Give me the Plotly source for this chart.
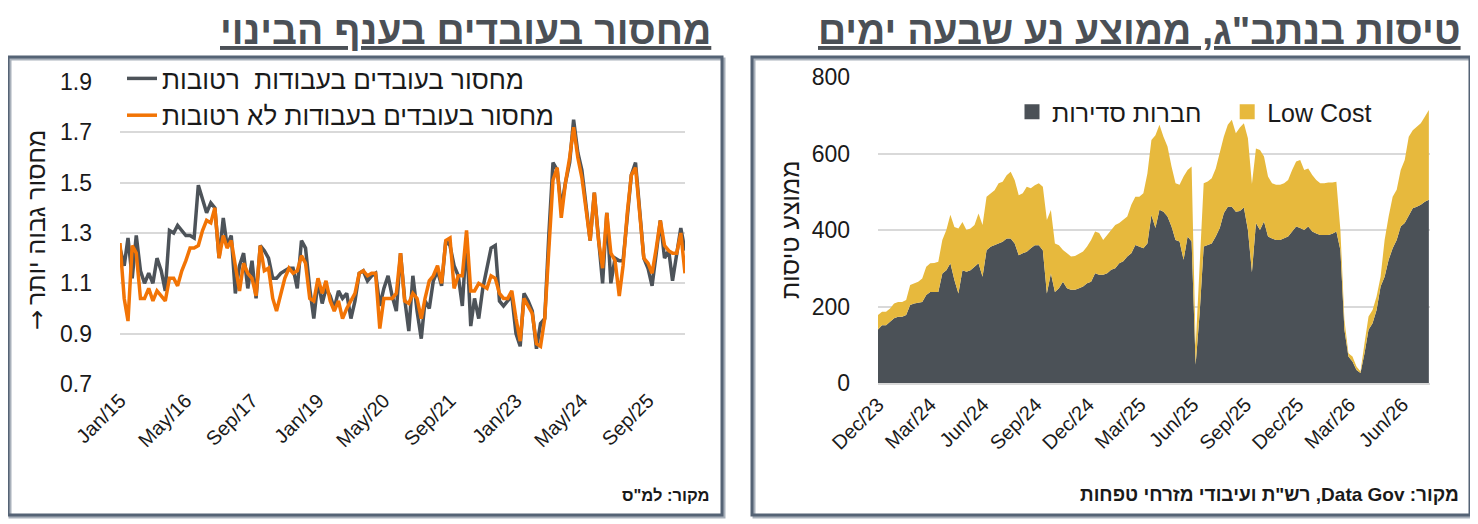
import pandas as pd
import plotly.graph_objects as go

W, H = 1478, 524

# ---- left panel: construction labour shortage (monthly, Jan 2015 - Jun 2026)
shortage_months = pd.date_range("2015-01-01", periods=138, freq="MS")
wet_works = [
    1.24, 1.17, 1.28, 1.12, 1.29, 1.15, 1.10, 1.14, 1.10, 1.20,
    1.15, 1.07, 1.31, 1.30, 1.33, 1.31, 1.29, 1.29, 1.28, 1.49,
    1.43, 1.38, 1.42, 1.40, 1.20, 1.36, 1.25, 1.29, 1.06, 1.17,
    1.22, 1.08, 1.19, 1.04, 1.25, 1.23, 1.20, 1.12, 1.12, 1.14,
    1.15, 1.16, 1.16, 1.08, 1.27, 1.24, 1.08, 0.96, 1.11, 1.02,
    1.08, 1.05, 1.00, 1.07, 1.04, 1.06, 0.96, 1.03, 1.14, 1.15,
    1.11, 1.13, 1.14, 1.01, 1.08, 1.13, 1.05, 0.99, 1.22, 1.04,
    0.91, 1.13, 0.99, 0.88, 1.03, 1.00, 1.11, 1.15, 1.09, 1.27,
    1.25, 1.17, 1.13, 1.01, 1.28, 0.93, 1.04, 0.96, 1.08, 1.17,
    1.24, 1.25, 1.03, 1.01, 1.03, 1.05, 0.90, 0.85, 1.06, 1.03,
    0.99, 0.84, 0.94, 0.96, 1.30, 1.58, 1.55, 1.40, 1.50, 1.58,
    1.75, 1.62, 1.55, 1.42, 1.27, 1.46, 1.27, 1.10, 1.38, 1.10,
    1.20, 1.19, 1.19, 1.38, 1.53, 1.58, 1.38, 1.20, 1.16, 1.09,
    1.22, 1.35, 1.20, 1.23, 1.11, 1.22, 1.32, 1.23,
]
dry_works = [
    1.26, 1.04, 0.95, 1.25, 1.22, 1.04, 1.04, 1.08, 1.03, 1.07,
    1.05, 1.03, 1.12, 1.12, 1.09, 1.15, 1.19, 1.24, 1.24, 1.25,
    1.31, 1.35, 1.34, 1.40, 1.20, 1.29, 1.24, 1.27, 1.17, 1.07,
    1.18, 1.14, 1.12, 1.05, 1.25, 1.15, 1.16, 1.04, 0.99, 1.06,
    1.12, 1.16, 1.14, 1.15, 1.21, 1.18, 1.04, 1.03, 1.12, 1.06,
    1.11, 1.03, 0.99, 1.03, 0.96, 1.00, 1.03, 1.06, 1.14, 1.15,
    1.13, 1.14, 1.14, 0.92, 1.04, 1.04, 1.04, 1.06, 1.22, 1.03,
    1.02, 1.06, 1.04, 0.96, 1.04, 1.11, 1.13, 1.17, 1.10, 1.27,
    1.28, 1.08, 1.13, 1.13, 1.31, 1.07, 1.07, 1.10, 1.09, 1.08,
    1.13, 1.12, 1.06, 1.04, 1.04, 1.07, 0.96, 0.87, 1.04, 1.01,
    0.98, 0.86, 0.85, 0.96, 1.25, 1.51, 1.56, 1.36, 1.50, 1.60,
    1.72, 1.60, 1.52, 1.40, 1.27, 1.46, 1.27, 1.16, 1.38, 1.22,
    1.19, 1.05, 1.17, 1.38, 1.53, 1.56, 1.38, 1.20, 1.18, 1.14,
    1.24, 1.35, 1.25, 1.23, 1.22, 1.22, 1.30, 1.14,
]
left_ticks = ["2015-01-01", "2016-05-01", "2017-09-01", "2019-01-01", "2020-05-01",
              "2021-09-01", "2023-01-01", "2024-05-01", "2025-09-01"]
left_ticktext = ["Jan/15", "May/16", "Sep/17", "Jan/19", "May/20",
                 "Sep/21", "Jan/23", "May/24", "Sep/25"]

# ---- right panel: flights at Ben Gurion, 7-day moving average (weekly reads)
flight_weeks = pd.date_range("2023-12-01", periods=138, freq="7D")
total_flights = [
    178, 186, 186, 195, 208, 212, 212, 217, 256, 260,
    265, 273, 304, 313, 314, 317, 374, 400, 440, 408,
    404, 421, 400, 404, 413, 443, 413, 487, 496, 504,
    522, 526, 543, 552, 530, 491, 496, 513, 509, 517,
    522, 513, 426, 452, 365, 360, 348, 339, 331, 332,
    338, 344, 357, 374, 396, 392, 374, 387, 400, 413,
    418, 426, 435, 466, 487, 487, 496, 548, 635, 648,
    675, 644, 618, 566, 522, 518, 540, 557, 566, 95,
    305, 522, 527, 535, 561, 600, 644, 675, 688, 653,
    668, 679, 640, 520, 613, 609, 592, 540, 522, 518,
    518, 522, 531, 557, 579, 583, 557, 561, 544, 531,
    522, 522, 524, 524, 526, 400, 165, 78, 69, 43,
    30, 104, 174, 191, 226, 278, 374, 435, 487, 505,
    557, 583, 644, 661, 670, 679, 696, 714,
]
regular_flights = [
    140, 151, 151, 160, 169, 173, 173, 178, 204, 208,
    210, 212, 230, 238, 238, 238, 286, 295, 313, 269,
    234, 295, 291, 295, 304, 313, 278, 347, 356, 360,
    365, 369, 378, 378, 365, 334, 339, 343, 352, 360,
    360, 347, 234, 286, 238, 248, 265, 248, 244, 244,
    248, 252, 261, 265, 287, 283, 283, 287, 296, 300,
    313, 318, 331, 339, 361, 357, 352, 365, 439, 405,
    453, 448, 435, 409, 374, 370, 322, 383, 370, 48,
    183, 357, 361, 365, 383, 405, 444, 461, 461, 448,
    450, 459, 400, 290, 418, 400, 422, 383, 378, 374,
    374, 378, 383, 396, 409, 405, 400, 409, 396, 391,
    387, 387, 387, 390, 396, 348, 139, 69, 56, 34,
    26, 78, 139, 156, 191, 252, 278, 322, 352, 374,
    409, 418, 439, 457, 461, 466, 474, 479,
]
low_cost_flights = [t - r for t, r in zip(total_flights, regular_flights)]
right_ticks = ["2023-12-01", "2024-03-01", "2024-06-01", "2024-09-01", "2024-12-01",
               "2025-03-01", "2025-06-01", "2025-09-01", "2025-12-01", "2026-03-01",
               "2026-06-01"]
right_ticktext = ["Dec/23", "Mar/24", "Jun/24", "Sep/24", "Dec/24", "Mar/25",
                  "Jun/25", "Sep/25", "Dec/25", "Mar/26", "Jun/26"]

FONT = "Liberation Sans, Arial, sans-serif"
TXT = "#1a1a1a"
GRAY_LINE = "#4d5359"
ORANGE = "#f27405"
DARK_AREA = "#4b5157"
GOLD = "#e7b93d"
GRID = "#d9d9d9"
TITLE_COLOR = "#4b5056"

# the page sits 8px in from the top-left corner of the screenshot
OFF = 8


def px(x):
    return (x - OFF) / W


def py(y):
    return 1 - (y - OFF) / H


fig = go.Figure()

fig.add_trace(go.Scatter(
    x=shortage_months, y=wet_works, mode="lines",
    name="מחסור בעובדים בעבודות\u00a0 רטובות",
    line=dict(color=GRAY_LINE, width=3.5),
    xaxis="x", yaxis="y", legend="legend",
))
fig.add_trace(go.Scatter(
    x=shortage_months, y=dry_works, mode="lines",
    name="מחסור בעובדים בעבודות לא רטובות",
    line=dict(color=ORANGE, width=3.5),
    xaxis="x", yaxis="y", legend="legend",
))

fig.add_trace(go.Scatter(
    x=flight_weeks, y=regular_flights, mode="lines", stackgroup="flights",
    name="חברות סדירות", line=dict(width=0, color=DARK_AREA),
    fillcolor=DARK_AREA, xaxis="x2", yaxis="y2", showlegend=False,
))
fig.add_trace(go.Scatter(
    x=flight_weeks, y=low_cost_flights, mode="lines", stackgroup="flights",
    name="Low Cost", line=dict(width=0, color=GOLD),
    fillcolor=GOLD, xaxis="x2", yaxis="y2", showlegend=False,
))
# square legend keys for the area chart
for name, color in [("חברות סדירות\u00a0\u00a0\u00a0", DARK_AREA), ("Low Cost", GOLD)]:
    fig.add_trace(go.Bar(x=[None], y=[None], name=name,
                         marker=dict(color=color, line=dict(color=color, width=3)),
                         xaxis="x2", yaxis="y2", legend="legend2"))

tick_font = dict(family=FONT, size=23, color=TXT)
date_font = dict(family=FONT, size=20, color=TXT)

fig.update_layout(
    width=W, height=H,
    margin=dict(l=0, r=0, t=0, b=0),
    paper_bgcolor="white", plot_bgcolor="white",
    font=dict(family=FONT, color=TXT),
    xaxis=dict(
        domain=[px(120), px(685)], anchor="y", type="date", automargin=False,
        range=["2015-01-01", "2026-06-01"],
        tickvals=left_ticks, ticktext=left_ticktext, tickangle=-45,
        tickfont=date_font, showgrid=False, showline=False, ticks="", zeroline=False,
    ),
    yaxis=dict(
        domain=[py(384), py(82)], anchor="x", automargin=False,
        range=[0.7, 1.9], tickvals=[0.7, 0.9, 1.1, 1.3, 1.5, 1.7, 1.9],
        ticktext=["0.7", "0.9", "1.1", "1.3", "1.5", "1.7", "1.9"],
        tickfont=tick_font, gridcolor=GRID, gridwidth=2,
        showline=False, zeroline=False, ticks="", ticklabelstandoff=27,
    ),
    xaxis2=dict(
        domain=[px(878), px(1430)], anchor="y2", type="date", automargin=False,
        range=["2023-12-01", "2026-07-19"],
        tickvals=right_ticks, ticktext=right_ticktext, tickangle=-45,
        tickfont=date_font, showgrid=False, showline=True, linecolor=GRID,
        linewidth=2, ticks="", zeroline=False,
    ),
    yaxis2=dict(
        domain=[py(383), py(77)], anchor="x2", automargin=False,
        range=[0, 800], tickvals=[0, 200, 400, 600, 800],
        tickfont=tick_font, gridcolor=GRID, gridwidth=2,
        showline=False, zeroline=False, ticks="", ticklabelstandoff=27,
    ),
    legend=dict(
        x=px(122), y=py(55), xanchor="left", yanchor="top",
        bgcolor="rgba(0,0,0,0)", font=dict(family=FONT, size=26),
        tracegroupgap=0, traceorder="normal",
    ),
    legend2=dict(
        orientation="h", x=px(1012), y=py(112), xanchor="left", yanchor="middle",
        bgcolor="rgba(0,0,0,0)", font=dict(family=FONT, size=25),
        traceorder="normal",
    ),
    showlegend=True,
)

# panel frames
for x0, x1 in [(8, 722), (752, 1470)]:
    fig.add_shape(type="rect", xref="paper", yref="paper",
                  x0=px(x0 + 2), x1=px(x1 + 2), y0=py(517), y1=py(59),
                  line=dict(color="#a9b1bb", width=3), layer="below")
    fig.add_shape(type="rect", xref="paper", yref="paper",
                  x0=px(x0), x1=px(x1), y0=py(515), y1=py(57),
                  line=dict(color="#556375", width=3), layer="below")

# axis titles (the arrow is set apart so it can be drawn larger)
fig.add_annotation(text="מחסור גבוה יותר", x=px(36), y=py(218),
                   xref="paper", yref="paper", textangle=-90, showarrow=False,
                   xanchor="center", yanchor="middle",
                   font=dict(family=FONT, size=25, color=TXT))
fig.add_annotation(text="→", x=px(37), y=py(320),
                   xref="paper", yref="paper", textangle=-90, showarrow=False,
                   xanchor="center", yanchor="middle",
                   font=dict(family="DejaVu Sans", size=24, color=TXT))
fig.add_annotation(text="ממוצע טיסות", x=px(790), y=py(230),
                   xref="paper", yref="paper", textangle=-90, showarrow=False,
                   xanchor="center", yanchor="middle",
                   font=dict(family=FONT, size=25, color=TXT))

# panel titles
title_font = dict(family=FONT, size=39, color=TITLE_COLOR)
fig.add_annotation(text='<b><span style="text-decoration:underline">מחסור בעובדים בענף הבינוי</span></b>',
                   x=px(713), y=py(31), xref="paper", yref="paper",
                   xanchor="right", yanchor="middle", showarrow=False,
                   font=title_font)
fig.add_annotation(text='<b><span style="text-decoration:underline">טיסות בנתב"ג, ממוצע נע שבעה ימים</span></b>',
                   x=px(1463), y=py(31), xref="paper", yref="paper",
                   xanchor="right", yanchor="middle", showarrow=False,
                   font=title_font)

# sources
fig.add_annotation(text='<b>מקור: למ"ס</b>', x=px(712), y=py(495),
                   xref="paper", yref="paper", xanchor="right", yanchor="middle",
                   showarrow=False, font=dict(family=FONT, size=16.5, color=TXT))
fig.add_annotation(text='<b>\u202bמקור: Data Gov, רש"ת ועיבודי מזרחי טפחות\u202c</b>',
                   x=px(1461), y=py(494), xref="paper", yref="paper",
                   xanchor="right", yanchor="middle", showarrow=False,
                   font=dict(family=FONT, size=19, color=TXT))

fig.write_html("out.html")
